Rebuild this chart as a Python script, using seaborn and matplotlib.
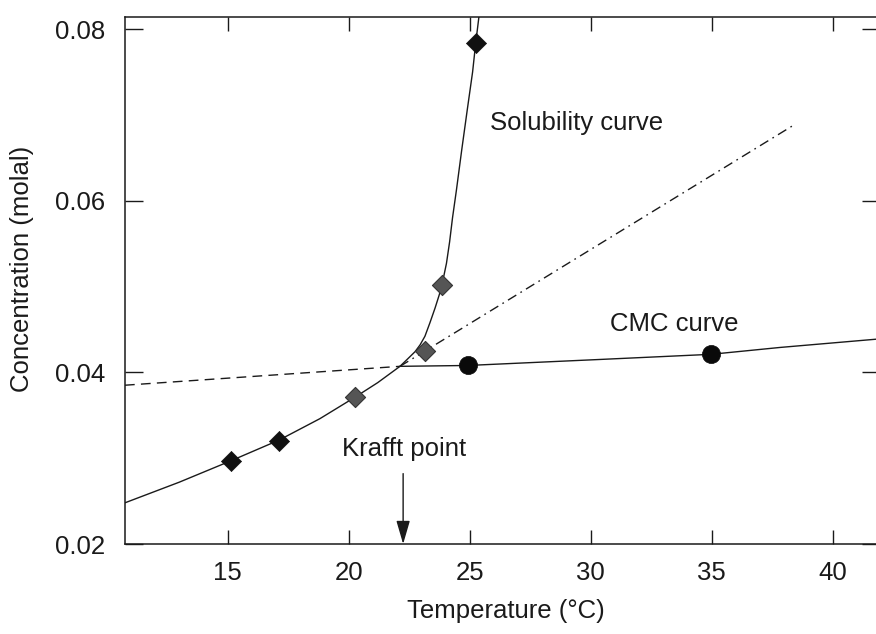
import matplotlib
matplotlib.use("Agg")
import matplotlib.pyplot as plt
import seaborn as sns
import pandas as pd

# ---- data ----
# solubility curve (temperature in degC, concentration in molal)
sol_T = [10.76, 13.00, 15.14, 17.12, 18.81, 20.26, 21.20, 22.12,
         22.45, 22.74, 22.95, 23.15, 23.36, 23.57, 23.75, 23.90, 24.04,
         24.17, 24.29, 24.45, 24.67, 24.90, 25.12, 25.25, 25.38]
sol_C = [0.0248, 0.0272, 0.0297, 0.0321, 0.0346, 0.0371, 0.0388, 0.0407,
         0.0416, 0.0424, 0.0432, 0.0442, 0.0458, 0.0475, 0.0491, 0.0508, 0.0527,
         0.0552, 0.0580, 0.0612, 0.0659, 0.0706, 0.0750, 0.0784, 0.0814]

# CMC curve
cmc_T = [22.12, 24.92, 30.38, 34.97, 37.82, 41.95]
cmc_C = [0.0407, 0.0408, 0.0415, 0.0421, 0.0429, 0.0439]

# extrapolated CMC (dashed) and extrapolated solubility (dash-dot)
dash_T = [10.76, 22.12]
dash_C = [0.0385, 0.0407]
dashdot_T = [22.12, 38.44]
dashdot_C = [0.0407, 0.0689]

# measured points
black_dia_T = [15.14, 17.12, 25.25]
black_dia_C = [0.0297, 0.0320, 0.0784]
grey_dia_T = [20.26, 23.15, 23.84]
grey_dia_C = [0.0371, 0.0425, 0.0502]
circle_T = [24.92, 34.97]
circle_C = [0.0408, 0.0421]

krafft_T = 22.25

x_ticks = [15, 20, 25, 30, 35, 40]
y_ticks = [0.02, 0.04, 0.06, 0.08]
y_tick_labels = ["0.02", "0.04", "0.06", "0.08"]

# ---- styling ----
sns.set_theme(style="ticks")
plt.rcParams["font.family"] = ["Liberation Sans", "DejaVu Sans"]
FS = 18.5
INK = "#1a1a1a"

fig = plt.figure(figsize=(8.76, 6.34), dpi=100)
ax = fig.add_axes([125 / 876, 90 / 634, 755 / 876, 527 / 634])

df_sol = pd.DataFrame({"T": sol_T, "C": sol_C})
df_cmc = pd.DataFrame({"T": cmc_T, "C": cmc_C})
df_dash = pd.DataFrame({"T": dash_T, "C": dash_C})
df_dd = pd.DataFrame({"T": dashdot_T, "C": dashdot_C})

sns.lineplot(data=df_sol, x="T", y="C", sort=False, estimator=None, ax=ax,
             color=INK, linewidth=1.0)
sns.lineplot(data=df_cmc, x="T", y="C", sort=False, estimator=None, ax=ax,
             color=INK, linewidth=1.0)
sns.lineplot(data=df_dash, x="T", y="C", sort=False, estimator=None, ax=ax,
             color=INK, linewidth=1.0)
ax.lines[-1].set_dashes([7, 4.5])
sns.lineplot(data=df_dd, x="T", y="C", sort=False, estimator=None, ax=ax,
             color=INK, linewidth=1.0)
ax.lines[-1].set_dashes([7, 3.5, 1.2, 3.5])

sns.scatterplot(x=black_dia_T, y=black_dia_C, marker="D", s=105, color="#111111",
                edgecolor="#111111", linewidth=0.5, ax=ax, zorder=5)
sns.scatterplot(x=grey_dia_T, y=grey_dia_C, marker="D", s=105, color="#555555",
                edgecolor="#333333", linewidth=0.8, ax=ax, zorder=5)
sns.scatterplot(x=circle_T, y=circle_C, marker="o", s=170, color="#0a0a0a",
                edgecolor="#0a0a0a", linewidth=0.5, ax=ax, zorder=5)

ax.set_xlim(10.76, 41.95)
ax.set_ylim(0.02, 0.0814)
ax.set_xticks(x_ticks)
ax.set_yticks(y_ticks)
ax.set_yticklabels(y_tick_labels)

ax.tick_params(axis="x", direction="in", length=10, width=1.0, pad=12.5,
               labelsize=FS, top=True, colors=INK)
ax.tick_params(axis="y", direction="in", length=13, width=1.0, pad=14,
               labelsize=FS, right=True, colors=INK)
for sp in ax.spines.values():
    sp.set_linewidth(1.1)
    sp.set_color(INK)

ax.set_xlabel("Temperature (°C)", fontsize=FS, color=INK)
ax.set_ylabel("Concentration (molal)", fontsize=FS, color=INK)
ax.xaxis.set_label_coords(0.505, -0.104)
ax.yaxis.set_label_coords(-0.121, 0.522)

ax.text(25.85, 0.0682, "Solubility curve", fontsize=FS, color=INK,
        ha="left", va="baseline")
ax.text(30.81, 0.0448, "CMC curve", fontsize=FS, color=INK,
        ha="left", va="baseline")
ax.text(19.71, 0.0302, "Krafft point", fontsize=FS, color=INK,
        ha="left", va="baseline")
ax.annotate("", xy=(krafft_T, 0.0200), xytext=(krafft_T, 0.0282),
            arrowprops=dict(arrowstyle="-|>,head_length=1.2,head_width=0.35",
                            color=INK, lw=1.0, shrinkA=0, shrinkB=0))

fig.savefig("out.png", dpi=100)
